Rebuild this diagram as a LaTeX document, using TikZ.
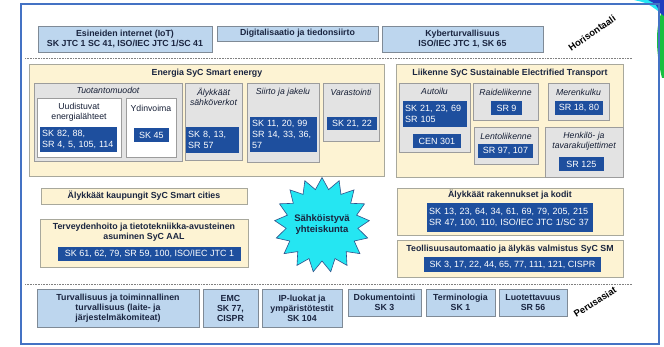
\documentclass[tikz,border=0pt]{standalone}
\usepackage{fontspec}
\setmainfont{Liberation Sans}
\usetikzlibrary{shapes.geometric}
\definecolor{frameblue}{HTML}{4472C4}
\definecolor{lblue}{HTML}{BDD6EE}
\definecolor{lbluedraw}{HTML}{7F8A96}
\definecolor{ypanel}{HTML}{FDF3D3}
\definecolor{ydraw}{HTML}{A8A89C}
\definecolor{gbox}{HTML}{E3E3E3}
\definecolor{gdraw}{HTML}{9C9C9C}
\definecolor{dblue}{HTML}{1E4F9E}
\definecolor{navy}{HTML}{1A2540}
\definecolor{starcyan}{HTML}{25E6F2}
\definecolor{decoblue}{HTML}{1F3FBF}
\definecolor{decogreen}{HTML}{18C040}
\newcommand{\titlefont}{\fontsize{8.8}{10}\selectfont\bfseries}
\newcommand{\bluefont}{\fontsize{9}{10.8}\selectfont}
\newcommand{\labfont}{\fontsize{8.7}{10}\selectfont}
\newcommand{\italfont}{\fontsize{8.7}{10}\selectfont\itshape}
\newcommand{\rotfont}{\fontsize{9.5}{11}\selectfont\bfseries}
\newcommand{\bx}[7]{\node[#2, minimum width=#5pt, minimum height=#6pt] (#1) at (#3,#4) {#7};}
\tikzset{
  boxbase/.style={anchor=north west, inner sep=0pt, outer sep=0pt},
  topbox/.style={boxbase, fill=lblue, draw=lbluedraw, line width=0.8pt, font=\titlefont, text=navy, align=center},
  panel/.style={boxbase, fill=ypanel, draw=ydraw, line width=0.8pt, font=\titlefont, text=navy, align=center},
  grey/.style={boxbase, fill=gbox, draw=gdraw, line width=0.8pt},
  whitebox/.style={boxbase, fill=white, draw=gdraw, line width=0.8pt},
  bluebox/.style={boxbase, fill=dblue, text=white, font=\bluefont, inner xsep=2pt, align=center},
  title/.style={font=\titlefont, text=navy, align=center, inner sep=0pt},
  ital/.style={font=\italfont, text=navy!85!black, align=center, inner sep=0pt},
  lab/.style={font=\labfont, text=navy!85!black, align=center, inner sep=0pt},
  dotline/.style={draw=gray, line width=0.8pt, dash pattern=on 0.8pt off 0.8pt},
}
\begin{document}
\begin{tikzpicture}[x=1pt, y=-1pt]
\fill[white] (0,0) rectangle (664,347);
\useasboundingbox (0,0) rectangle (664,347);
% corner decoration
\fill[decogreen] (664,8) .. controls (655,22) and (655,50) .. (662,78) -- (664,78) -- cycle;
\fill[starcyan] (634,0) .. controls (647,3) .. (658,11) -- (664,11) -- (664,0) -- cycle;
\fill[decoblue] (648,0) .. controls (656,4) .. (660,13) -- (664,16) -- (664,0) -- cycle;
% frame
\draw[frameblue, line width=1.5pt] (21,4) rectangle (659,344);
% top row
\bx{iot}{topbox}{38}{26}{174}{26}{Esineiden internet (IoT)\\SK JTC 1 SC 41, ISO/IEC JTC 1/SC 41}
\bx{digi}{topbox}{217}{26}{161}{15}{Digitalisaatio ja tiedonsiirto}
\bx{kyber}{topbox}{382}{26}{161}{26}{Kyberturvallisuus\\ISO/IEC JTC 1, SK 65}
\node[rotate=35, font=\rotfont, text=black, inner sep=0pt] (horis) at (592,33) {Horisontaali};
\coordinate (d1a) at (25,58);
\coordinate (d1b) at (632,58);
\draw[dotline] (d1a) -- (d1b);
% Energia
\bx{energia}{panel}{29}{64}{355}{112}{}
\node[title] (entit) at (207,73) {Energia SyC Smart energy};
\bx{tuot}{grey}{34}{83}{148}{78}{}
\node[ital] (tuott) at (108,90) {Tuotantomuodot};
\bx{uud}{whitebox}{37}{98}{84}{59}{}
\node[lab] (uudt) at (79,112) {Uudistuvat\\energialähteet};
\node[bluebox, text width=73pt, minimum height=25pt, align=left] (uudb) at (40,127) {SK 82, 88,\\SR 4, 5, 105, 114};
\bx{ydin}{whitebox}{126}{98}{50}{59}{}
\node[lab] (ydint) at (151,108) {Ydinvoima};
\bx{ydinb}{bluebox}{134}{128}{35}{14}{SK 45}
\bx{alyk}{grey}{185}{83}{57}{77}{}
\node[ital] (alykt) at (213.5,97) {Älykkäät\\sähköverkot};
\node[bluebox, text width=49pt, minimum height=26pt, align=left] (alykb) at (186,127) {SK 8, 13,\\SR 57};
\bx{siirto}{grey}{247}{83}{72}{79}{}
\node[ital] (siirtot) at (283,92) {Siirto ja jakelu};
\node[bluebox, text width=63pt, minimum height=35pt, align=left] (siirtob) at (250,117) {SK 11, 20, 99\\SR 14, 33, 36,\\57};
\bx{var}{grey}{323}{83}{56}{58}{}
\node[ital] (vart) at (351,92) {Varastointi};
\bx{varb}{bluebox}{327}{117}{50}{13}{SK 21, 22}
% Liikenne
\bx{liikenne}{panel}{396}{64}{227}{113}{}
\node[title] (liit) at (510,73) {Liikenne SyC Sustainable Electrified Transport};
\bx{auto}{grey}{399}{83}{71}{69}{}
\node[ital] (autot) at (434.5,91) {Autoilu};
\node[bluebox, text width=60pt, minimum height=26pt, align=left] (autob) at (403,101) {SK 21, 23, 69\\SR 105};
\bx{cen}{bluebox}{413}{134}{48}{14}{CEN 301}
\bx{raide}{grey}{473}{83}{65}{37}{}
\node[ital] (raidet) at (505.5,92) {Raideliikenne};
\bx{raideb}{bluebox}{491}{101}{31}{14}{SR 9}
\bx{meren}{grey}{548}{83}{61}{37}{}
\node[ital] (merent) at (578.5,92) {Merenkulku};
\bx{merenb}{bluebox}{555}{101}{48}{14}{SR 18, 80}
\bx{lento}{grey}{474}{127}{64}{37}{}
\node[ital] (lentot) at (506,136) {Lentoliikenne};
\bx{lentob}{bluebox}{478}{144}{55}{14}{SR 97, 107}
\bx{henk}{grey}{545}{127}{78}{50}{}
\node[ital] (henkt) at (584,141.5) {Henkilö- ja\\tavarakuljettimet};
\bx{henkb}{bluebox}{559}{157}{45}{14}{SR 125}
% left lower
\bx{kaup}{panel}{41}{188}{206}{16}{Älykkäät kaupungit SyC Smart cities}
\bx{terv}{panel}{40}{219}{208}{48}{}
\node[title] (tervt) at (144,232) {Terveydenhoito ja tietotekniikka-avusteinen\\asuminen SyC AAL};
\bx{tervb}{bluebox}{58}{247}{183}{14}{SK 61, 62, 79, SR 59, 100, ISO/IEC JTC 1}
% star
\node[star, star points=17, star point ratio=1.32, minimum size=95pt, fill=starcyan, draw=frameblue!70!black, line width=0.6pt, inner sep=0pt] (star) at (322,225) {};
\node[font=\fontsize{9.5}{11}\selectfont\bfseries, text=navy, align=center, inner sep=0pt] (start) at (star.center) {Sähköistyvä\\yhteiskunta};
% right lower
\bx{rak}{panel}{397}{188}{226}{47}{}
\node[title] (rakt) at (510,195) {Älykkäät rakennukset ja kodit};
\node[bluebox, text width=162pt, minimum height=29pt, align=left] (rakb) at (427,203) {SK 13, 23, 64, 34, 61, 69, 79, 205, 215\\SR 47, 100, 110, ISO/IEC JTC 1/SC 37};
\bx{teol}{panel}{397}{240}{226}{37}{}
\node[title] (teolt) at (510,249) {Teollisuusautomaatio ja älykäs valmistus SyC SM};
\bx{teolb}{bluebox}{424}{257}{177}{15}{SK 3, 17, 22, 44, 65, 77, 111, 121, CISPR}
% bottom
\coordinate (d2a) at (25,284);
\coordinate (d2b) at (632,284);
\draw[dotline] (d2a) -- (d2b);
\bx{turv}{topbox}{37}{289}{162}{38}{Turvallisuus ja toiminnallinen\\turvallisuus (laite- ja\\järjestelmäkomiteat)}
\bx{emc}{topbox}{203}{289}{55}{38}{EMC\\SK 77,\\CISPR}
\bx{ip}{topbox}{262}{289}{80}{38}{IP-luokat ja\\ympäristötestit\\SK 104}
\bx{dok}{topbox}{348}{289}{73}{27}{Dokumentointi\\SK 3}
\bx{term}{topbox}{426}{289}{69}{27}{Terminologia\\SK 1}
\bx{luot}{topbox}{499}{289}{68}{27}{Luotettavuus\\SR 56}
\node[rotate=32, font=\rotfont, text=black, inner sep=0pt] (perus) at (595,302) {Perusasiat};
\end{tikzpicture}
\end{document}
